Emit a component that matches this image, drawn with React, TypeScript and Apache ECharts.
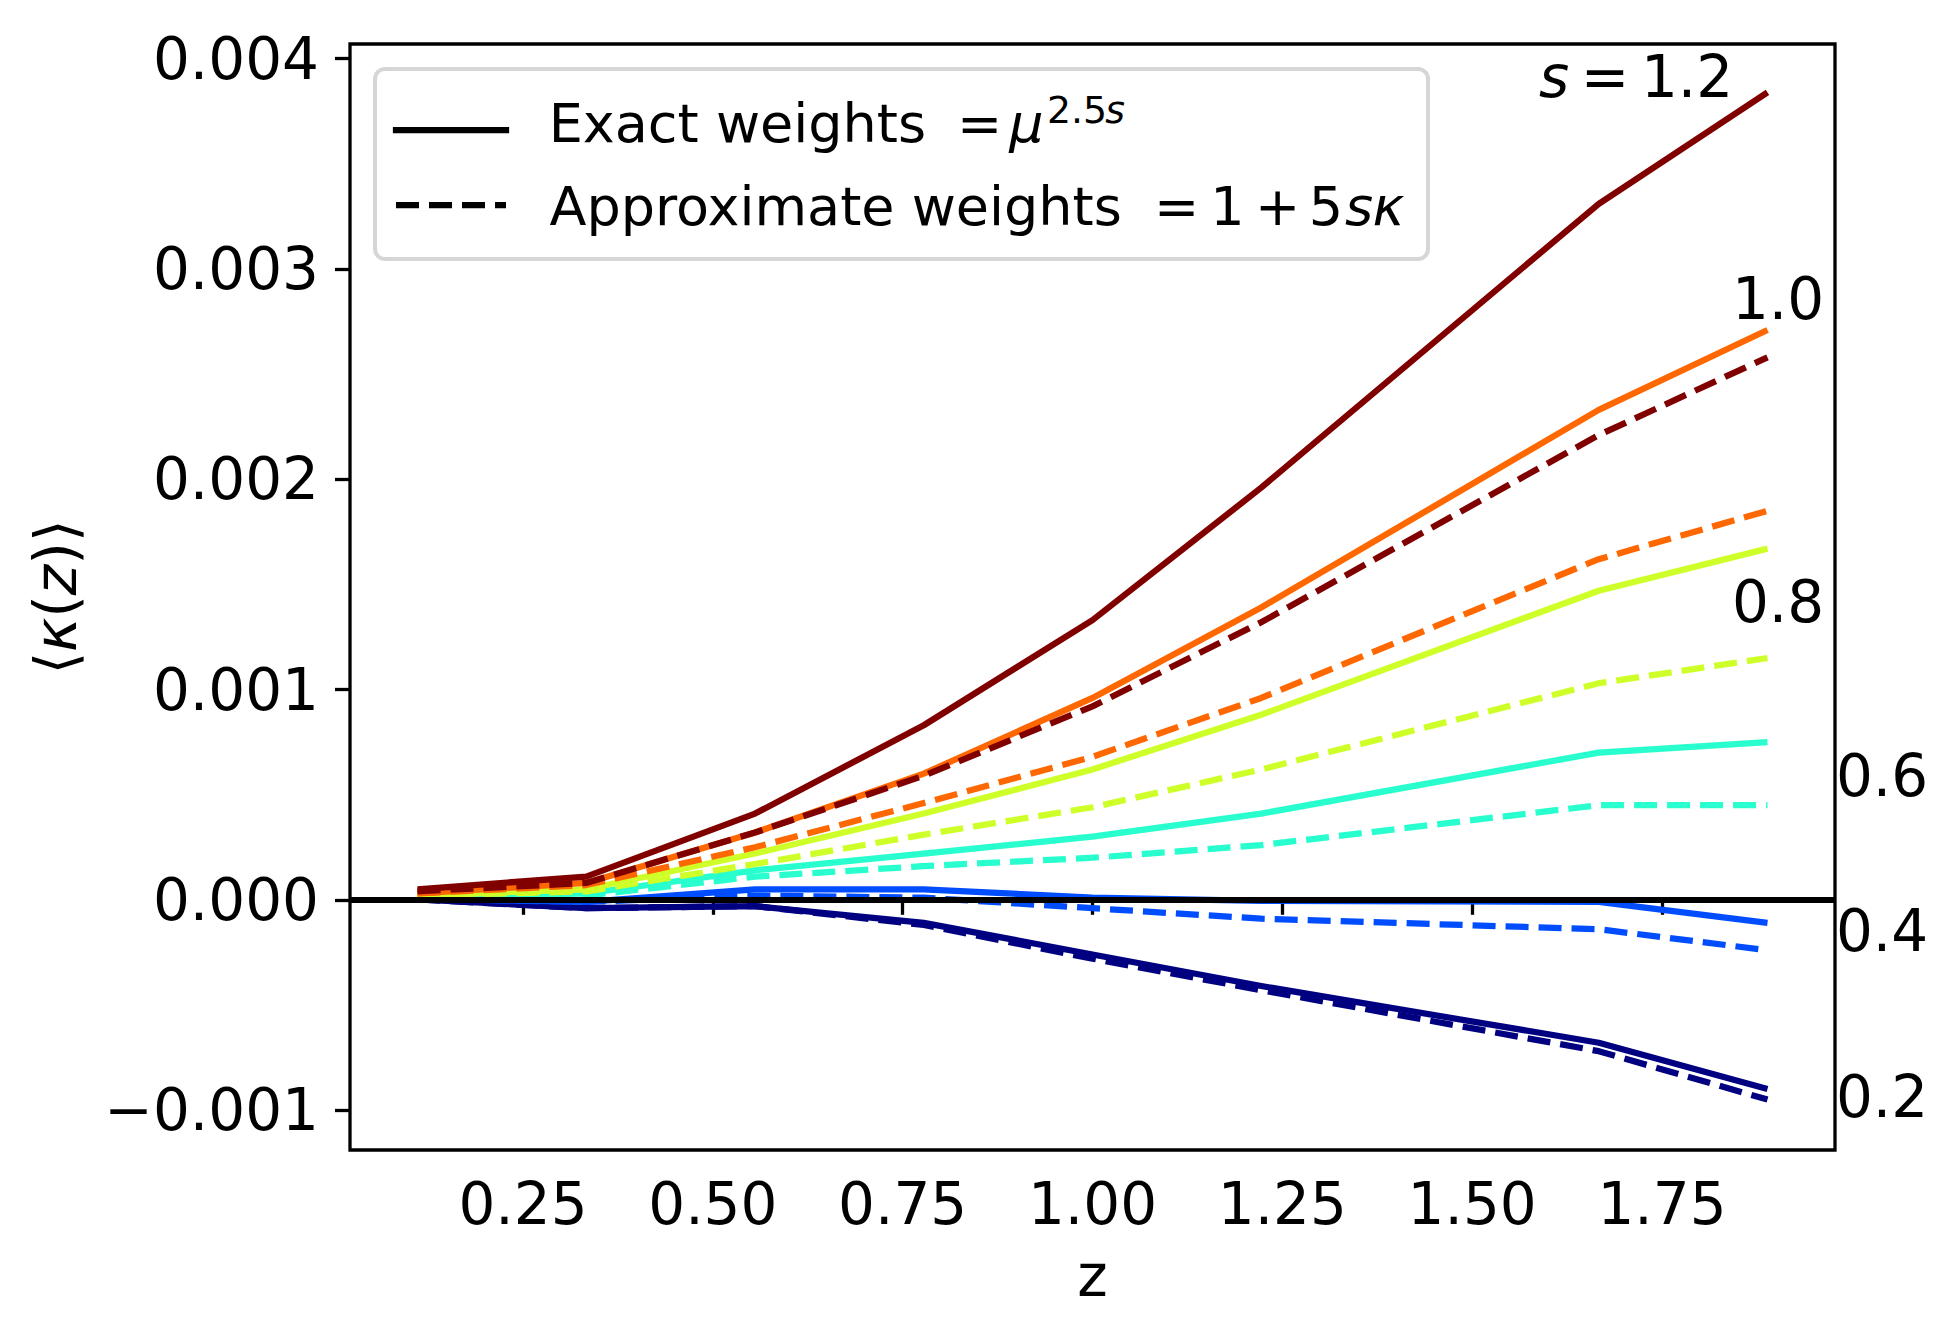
import { useEffect, useRef } from "react";
import * as echarts from "echarts";

const FONT = "'DejaVu Sans', sans-serif";

// redshift bins
const zValues = [0.1111, 0.3333, 0.5556, 0.7778, 1.0, 1.2222, 1.6667, 1.8889];

// s values and jet colours
const sValues = [0.2, 0.4, 0.6, 0.8, 1.0, 1.2];
const sColors = ["#000080", "#004cff", "#29ffce", "#ceff29", "#ff6800", "#800000"];

// <kappa(z)> with exact weights mu^(2.5 s)
const exact02 = [0.000002, -0.00004, -0.00003, -0.00011, -0.00026, -0.00041, -0.00068, -0.0009];
const exact04 = [0.000005, -0.00001, 0.00005, 0.00005, 0.00001, -0.000005, -0.00001, -0.00011];
const exact06 = [0.00001, 0.00003, 0.00014, 0.00022, 0.0003, 0.00041, 0.0007, 0.00075];
const exact08 = [0.00002, 0.00005, 0.00022, 0.00041, 0.00062, 0.00088, 0.00147, 0.00167];
const exact10 = [0.00003, 0.00008, 0.00032, 0.0006, 0.00096, 0.00139, 0.00233, 0.00271];
const exact12 = [0.00005, 0.00011, 0.00041, 0.00083, 0.00133, 0.00196, 0.00331, 0.00384];

// <kappa(z)> with approximate weights 1 + 5 s kappa
const approx02 = [0.000002, -0.00004, -0.00003, -0.00012, -0.00028, -0.00043, -0.00072, -0.00095];
const approx04 = [0.000005, -0.00001, 0.00002, 0.00001, -0.00004, -0.00009, -0.00014, -0.00024];
const approx06 = [0.00001, 0.00002, 0.00011, 0.00016, 0.0002, 0.00026, 0.00045, 0.00045];
const approx08 = [0.00002, 0.00004, 0.00017, 0.00031, 0.00044, 0.00062, 0.00103, 0.00115];
const approx10 = [0.00003, 0.00007, 0.00025, 0.00046, 0.00068, 0.00096, 0.00162, 0.00185];
const approx12 = [0.00004, 0.00008, 0.00032, 0.00059, 0.00092, 0.00132, 0.00221, 0.00258];

const exactSets = [exact02, exact04, exact06, exact08, exact10, exact12];
const approxSets = [approx02, approx04, approx06, approx08, approx10, approx12];

// axes
const X_MIN = 0.0222;
const X_MAX = 1.9778;
const Y_MIN = -0.00119;
const Y_MAX = 0.00407;
const xTicks = [0.25, 0.5, 0.75, 1.0, 1.25, 1.5, 1.75];
const yTicks = [-0.001, 0, 0.001, 0.002, 0.003, 0.004];

// curve annotations (text, data position of left / middle anchor)
const annTexts = ["{i|s}\u2009=\u20091.2", "1.0", "0.8", "0.6", "0.4", "0.2"];
const annZ = [1.588, 1.842, 1.842, 1.979, 1.979, 1.979];
const annV = [0.003913, 0.002857, 0.001416, 0.000589, -0.000148, -0.00094];

const DASH = [23, 10];

function fmtY(v: number) {
  if (Math.abs(v) < 1e-12) return "0.000";
  return v < 0 ? "\u2212" + Math.abs(v).toFixed(3) : v.toFixed(3);
}

function txt(x: number, y: number, text: string, size: number, align: string, italic = false) {
  return {
    type: "text",
    x,
    y,
    silent: true,
    z: 100,
    style: {
      text,
      fontSize: size,
      fontFamily: FONT,
      fontStyle: italic ? "italic" : "normal",
      fill: "#000",
      align,
      textAlign: align,
      verticalAlign: "middle",
      textVerticalAlign: "middle",
    },
  };
}

export default function App() {
  const ref = useRef<HTMLDivElement>(null);

  useEffect(() => {
    document.body.style.margin = "0";
    const el = ref.current;
    if (!el) return;
    const chart = echarts.init(el, null, { renderer: "svg" });

    const series: any[] = [];
    sValues.forEach((s, i) => {
      series.push({
        name: `s=${s} exact`,
        type: "line",
        symbol: "none",
        silent: true,
        data: zValues.map((z, k) => [z, exactSets[i][k]]),
        lineStyle: { color: sColors[i], width: 6.25, type: "solid", join: "round" },
        emphasis: { disabled: true },
        ...(i === 0
          ? {
              markLine: {
                silent: true,
                symbol: ["none", "none"],
                label: { show: false },
                lineStyle: { color: "#000", width: 6, type: "solid" },
                emphasis: { disabled: true },
                data: [{ yAxis: 0 }],
              },
            }
          : {}),
      });
      series.push({
        name: `s=${s} approx`,
        type: "line",
        symbol: "none",
        silent: true,
        data: zValues.map((z, k) => [z, approxSets[i][k]]),
        lineStyle: { color: sColors[i], width: 6.25, type: DASH, join: "round" },
        emphasis: { disabled: true },
      });
    });

    const option: any = {
      animation: false,
      backgroundColor: "#ffffff",
      grid: {
        left: 350,
        top: 44,
        width: 1485,
        height: 1106,
        show: true,
        borderColor: "#000",
        borderWidth: 3.3,
        backgroundColor: "transparent",
        containLabel: false,
      },
      xAxis: {
        type: "value",
        min: X_MIN,
        max: X_MAX,
        name: "z",
        nameLocation: "middle",
        nameGap: 97,
        nameTextStyle: { fontSize: 58, fontFamily: FONT, color: "#000" },
        axisLine: { show: false },
        splitLine: { show: false },
        axisTick: {
          show: true,
          inside: false,
          length: 15,
          lineStyle: { color: "#000", width: 3.3 },
          customValues: xTicks,
        },
        axisLabel: {
          customValues: xTicks,
          formatter: (v: number) => v.toFixed(2),
          fontSize: 58,
          fontFamily: FONT,
          color: "#000",
          margin: 25,
        },
      },
      yAxis: {
        type: "value",
        min: Y_MIN,
        max: Y_MAX,
        name: "\u27e8{i|\u03ba}({i|z})\u27e9",
        nameLocation: "middle",
        nameRotate: 90,
        nameGap: 265,
        nameTextStyle: {
          fontSize: 58,
          fontFamily: FONT,
          color: "#000",
          rich: { i: { fontSize: 58, fontFamily: FONT, fontStyle: "italic", color: "#000" } },
        },
        axisLine: { show: false },
        splitLine: { show: false },
        axisTick: {
          show: true,
          inside: false,
          length: 15,
          lineStyle: { color: "#000", width: 3.3 },
          customValues: yTicks,
        },
        axisLabel: {
          customValues: yTicks,
          formatter: (v: number) => fmtY(v),
          fontSize: 58,
          fontFamily: FONT,
          color: "#000",
          margin: 31,
        },
      },
      series,
    };

    chart.setOption(option);

    // legend (drawn as graphic)
    const LF = 54;
    const SUP = 37.8;
    const y1 = 142 - 0.346 * LF;
    const y2 = 225 - 0.346 * LF;
    const ys = 123 - 0.346 * SUP;
    const legend: any[] = [
      {
        type: "rect",
        silent: true,
        z: 90,
        shape: { x: 375, y: 69, width: 1053, height: 190, r: 10 },
        style: { fill: "rgba(255,255,255,0.8)", stroke: "#d6d6d6", lineWidth: 4 },
      },
      {
        type: "line",
        silent: true,
        z: 100,
        shape: { x1: 396, y1: 130, x2: 506, y2: 130 },
        style: { stroke: "#000", lineWidth: 6.25, lineCap: "square" },
      },
      {
        type: "line",
        silent: true,
        z: 100,
        shape: { x1: 396, y1: 205, x2: 506, y2: 205 },
        style: { stroke: "#000", lineWidth: 6.25, lineDash: DASH, lineCap: "butt" },
      },
      txt(548.7, y1, "Exact weights", LF, "left"),
      txt(979.5, y1, "=", LF, "center"),
      txt(1026.5, y1, "\u03bc", LF, "center", true),
      txt(1077, ys, "2.5", SUP, "center"),
      txt(1115, ys, "s", SUP, "center", true),
      txt(549.6, y2, "Approximate weights", LF, "left"),
      txt(1176.5, y2, "=", LF, "center"),
      txt(1227.5, y2, "1", LF, "center"),
      txt(1277.5, y2, "+", LF, "center"),
      txt(1326, y2, "5", LF, "center"),
      txt(1359, y2, "s", LF, "center", true),
      txt(1388.5, y2, "\u03ba", LF, "center", true),
    ];

    const ann: any[] = annTexts.map((t, i) => {
      const p = chart.convertToPixel({ gridIndex: 0 }, [annZ[i], annV[i]]) as number[];
      return {
        type: "text",
        x: p[0],
        y: p[1],
        silent: true,
        z: 100,
        style: {
          text: t,
          fontSize: 58,
          fontFamily: FONT,
          fill: "#000",
          align: "left",
          textAlign: "left",
          verticalAlign: "middle",
          textVerticalAlign: "middle",
          rich: { i: { fontSize: 58, fontFamily: FONT, fontStyle: "italic", fill: "#000", color: "#000" } },
        },
      };
    });

    chart.setOption({ graphic: [...legend, ...ann] });

    return () => {
      chart.dispose();
    };
  }, []);

  return <div ref={ref} style={{ width: "1958px", height: "1341px", background: "#fff" }} />;
}
